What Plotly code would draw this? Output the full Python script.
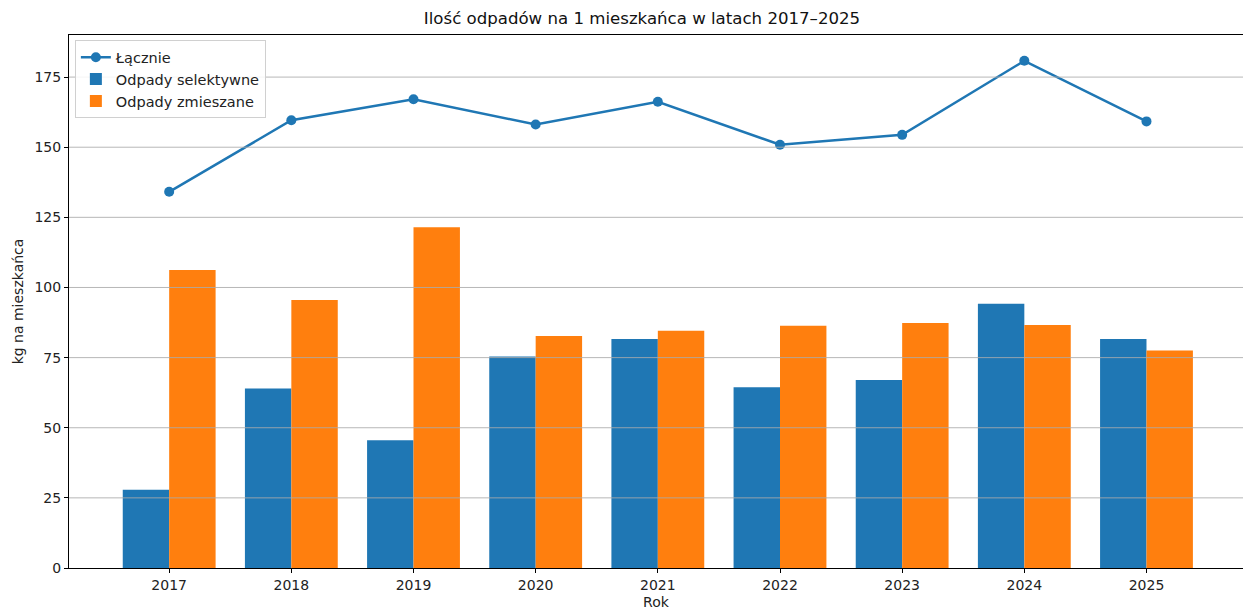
import plotly.graph_objects as go

years = [2017, 2018, 2019, 2020, 2021, 2022, 2023, 2024, 2025]
selektywne = [27.9, 64.0, 45.5, 75.4, 81.6, 64.4, 67.0, 94.2, 81.6]
zmieszane = [106.2, 95.5, 121.5, 82.7, 84.6, 86.4, 87.3, 86.6, 77.5]
lacznie = [134.1, 159.6, 167.1, 158.1, 166.2, 150.9, 154.4, 180.8, 159.2]
y_ticks = [0, 25, 50, 75, 100, 125, 150, 175]

BLUE = "#1f77b4"
ORANGE = "#ff7f0e"
FONT = "DejaVu Sans"

fig = go.Figure()
fig.add_trace(go.Scatter(
    x=years, y=lacznie, name="Łącznie", mode="lines+markers",
    line=dict(color=BLUE, width=2.5), marker=dict(color=BLUE, size=10),
))
fig.add_trace(go.Bar(
    x=years, y=selektywne, name="Odpady selektywne", marker=dict(color=BLUE, line=dict(width=0)),
    width=0.38, offset=-0.38,
))
fig.add_trace(go.Bar(
    x=years, y=zmieszane, name="Odpady zmieszane", marker=dict(color=ORANGE, line=dict(width=0)),
    width=0.38, offset=0.0,
))

for t in y_ticks[1:]:
    fig.add_shape(type="line", xref="paper", x0=0, x1=1, yref="y", y0=t, y1=t,
                  line=dict(color="rgba(170,170,170,0.85)", width=1), layer="above")

fig.update_layout(
    width=1243, height=612,
    margin=dict(l=69, r=0, t=35, b=44),
    paper_bgcolor="white", plot_bgcolor="white",
    font=dict(family=FONT, size=14, color="#222"),
    title=dict(text="Ilość odpadów na 1 mieszkańca w latach 2017–2025",
               x=642 / 1243, xanchor="center", y=1 - 18 / 612, yanchor="middle",
               font=dict(family=FONT, size=16.6, color="#111")),
    showlegend=True,
    legend=dict(x=0.005, y=0.99, xanchor="left", yanchor="top",
                bgcolor="rgba(255,255,255,0.85)", bordercolor="#d0d0d0", borderwidth=1,
                font=dict(family=FONT, size=14.5, color="#222"),
                itemwidth=30, tracegroupgap=0),
    barmode="overlay",
)
fig.update_xaxes(
    range=[2016.18, 2025.79], tickmode="array", tickvals=years,
    ticktext=[str(y) for y in years],
    showgrid=False, showline=True, linecolor="black", linewidth=1, mirror=True,
    ticks="outside", ticklen=4, tickcolor="black",
    tickfont=dict(family=FONT, size=14, color="#222"),
    title=dict(text="Rok", font=dict(family=FONT, size=14, color="#222"), standoff=5),
    zeroline=False,
)
fig.update_yaxes(
    range=[0, 190], tickmode="array", tickvals=y_ticks,
    showgrid=False, showline=True, linecolor="black", linewidth=1,
    ticks="outside", ticklen=4, tickcolor="black",
    tickfont=dict(family=FONT, size=14, color="#222"),
    title=dict(text="kg na mieszkańca", font=dict(family=FONT, size=14, color="#222"), standoff=7),
    zeroline=False,
)

fig.write_html(
    "out.html",
    config={"displayModeBar": False},
    post_script="document.body.style.margin='0';document.documentElement.style.overflow='hidden';document.body.style.overflow='hidden';",
)
